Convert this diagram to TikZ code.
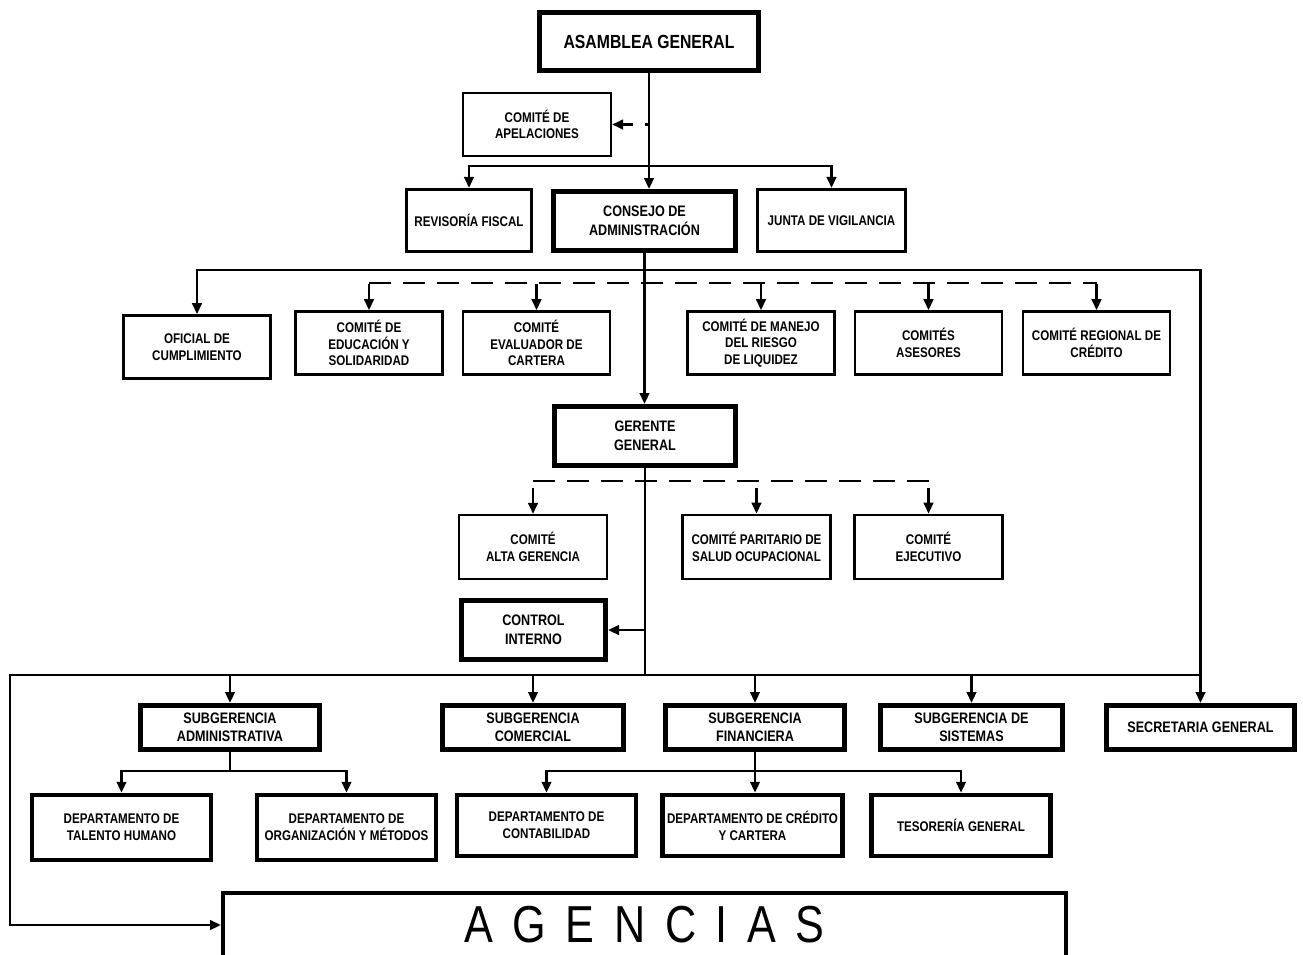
\documentclass[tikz,border=0pt]{standalone}
\usepackage{fontspec}
\setmainfont{Liberation Sans}[FakeStretch=0.83]
\usetikzlibrary{arrows.meta}
\newcommand{\fA}{\fontsize{19}{21}\selectfont\bfseries}
\newcommand{\fB}{\fontsize{15.2}{18.5}\selectfont\bfseries}
\newcommand{\fC}{\fontsize{14}{16.5}\selectfont\bfseries}
\newcommand{\fD}{\fontsize{14}{17}\selectfont\bfseries}
\begin{document}
\begin{tikzpicture}[x=1pt,y=-1pt,
  box/.style={draw,line width=2.6pt,inner sep=0pt,align=center,font=\fC},
  tbox/.style={draw,line width=5pt,inner sep=0pt,align=center,font=\fB},
  dbox/.style={draw,line width=4.5pt,inner sep=0pt,align=center,font=\fD},
  ln/.style={line width=2.6pt},
  arr/.style={line width=2.6pt,-{Triangle[length=11pt,width=9.5pt]}},
  dsh/.style={line width=2.6pt,dash pattern=on 22pt off 12pt}]
\useasboundingbox (0,0) rectangle (1303,954);
% nodes
\node[tbox,font=\fA,minimum width=219,minimum height=58] (ag) at (649,41.5) {ASAMBLEA GENERAL};
\node[box,line width=2.2pt,minimum width=148,minimum height=63] (apel) at (537,124.5) {COMITÉ DE\\APELACIONES};
\node[box,minimum width=125.5,minimum height=62.5] (rev) at (469,220.5) {REVISORÍA FISCAL};
\node[tbox,minimum width=182,minimum height=59] (cons) at (644.5,221) {CONSEJO DE\\ADMINISTRACIÓN};
\node[box,minimum width=148.5,minimum height=62.5] (jun) at (831.5,220.5) {JUNTA DE VIGILANCIA};
\node[box,minimum width=147,minimum height=63] (ofi) at (197,347) {OFICIAL DE\\CUMPLIMIENTO};
\node[box,minimum width=147,minimum height=63] (ced) at (369,343) {COMITÉ DE\\EDUCACIÓN Y\\SOLIDARIDAD};
\node[box,minimum width=147,minimum height=63] (cev) at (536.5,343) {COMITÉ\\EVALUADOR DE\\CARTERA};
\node[box,minimum width=147,minimum height=63] (cman) at (761,343) {COMITÉ DE MANEJO\\DEL RIESGO\\DE LIQUIDEZ};
\node[box,minimum width=147,minimum height=63] (cas) at (928.5,343) {COMITÉS\\ASESORES};
\node[box,minimum width=147,minimum height=63] (creg) at (1096.5,343) {COMITÉ REGIONAL DE\\CRÉDITO};
\node[tbox,minimum width=181,minimum height=59] (ger) at (645,436) {GERENTE\\GENERAL};
\node[box,line width=2.2pt,minimum width=148,minimum height=64] (calt) at (533,547) {COMITÉ\\ALTA GERENCIA};
\node[box,minimum width=148,minimum height=64] (cpar) at (756.5,547) {COMITÉ PARITARIO DE\\SALUD OCUPACIONAL};
\node[box,minimum width=148,minimum height=64] (cej) at (928.5,547) {COMITÉ\\EJECUTIVO};
\node[tbox,minimum width=144,minimum height=59] (ci) at (533.5,630) {CONTROL\\INTERNO};
\node[tbox,minimum width=179,minimum height=44] (sa) at (230,727.5) {SUBGERENCIA\\ADMINISTRATIVA};
\node[tbox,minimum width=181,minimum height=44] (sc) at (533,727.5) {SUBGERENCIA\\COMERCIAL};
\node[tbox,minimum width=179,minimum height=44] (sf) at (755,727.5) {SUBGERENCIA\\FINANCIERA};
\node[tbox,minimum width=182,minimum height=44] (ss) at (971.5,727.5) {SUBGERENCIA DE\\SISTEMAS};
\node[tbox,minimum width=188,minimum height=44] (sec) at (1200.5,727.5) {SECRETARIA GENERAL};
\node[dbox,minimum width=179,minimum height=65] (dth) at (121.5,827.5) {DEPARTAMENTO DE\\TALENTO HUMANO};
\node[dbox,minimum width=179,minimum height=65] (dom) at (346.5,827.5) {DEPARTAMENTO DE\\ORGANIZACIÓN Y MÉTODOS};
\node[dbox,minimum width=179,minimum height=61] (dc) at (546.5,825.5) {DEPARTAMENTO DE\\CONTABILIDAD};
\node[dbox,minimum width=180,minimum height=61] (dcc) at (752.5,825.5) {DEPARTAMENTO DE CRÉDITO\\Y CARTERA};
\node[dbox,minimum width=179,minimum height=61] (tes) at (961,825.5) {TESORERÍA GENERAL};
\node[draw,line width=4pt,inner sep=0pt,minimum width=843,minimum height=64] (agen) at (644.5,925)
  {\fontsize{52}{52}\selectfont\makebox[360pt][s]{A\hfill G\hfill E\hfill N\hfill C\hfill I\hfill A\hfill S}};
% coordinates
\coordinate (j1) at (649,166);
\coordinate (j2) at (645,270);
\coordinate (j3) at (645,675);
\coordinate (lc) at (10,925);
% top connectors
\draw[arr] (ag.south) -- (ag.south |- cons.north);
\draw[arr] (j1) -| (rev.north);
\draw[arr] (j1) -| (jun.north);
\draw[line width=2.6pt,dash pattern=on 4pt off 12pt on 40pt,-{Triangle[length=11pt,width=9.5pt]}] (ag.south |- apel.east) -- (apel.east);
% consejo
\draw[arr] (cons.south) -- (cons.south |- ger.north);
\draw[arr] (j2) -| (ofi.north);
\draw[arr] (j2) -| (sec.north);
\draw[dsh] (ced.north |- 0,283) -- (creg.north |- 0,283);
\foreach \n in {ced,cev,cman,cas,creg}{\draw[arr] (\n.north |- 0,284) -- (\n.north);}
% gerente
\draw[ln] (ger.south) -- (j3);
\draw[dsh] (calt.north |- 0,481) -- (cej.north |- 0,481);
\foreach \n in {calt,cpar,cej}{\draw[arr] (\n.north |- 0,488) -- (\n.north);}
\draw[arr] (ger.south |- ci.east) -- (ci.east);
\foreach \n in {sa,sc,sf,ss}{\draw[arr] (j3) -| (\n.north);}
\draw[ln] (j3) -- (sec.north |- j3);
\draw[arr] (j3) -| (lc) -- (agen.west);
% subgerencias
\draw[ln] (sa.south) -- (sa.south |- 0,771);
\draw[arr] (sa.south |- 0,771) -| (dth.north);
\draw[arr] (sa.south |- 0,771) -| (dom.north);
\draw[arr] (sf.south) -- (sf.south |- dcc.north);
\draw[arr] (sf.south |- 0,771) -| (dc.north);
\draw[arr] (sf.south |- 0,771) -| (tes.north);
\end{tikzpicture}
\end{document}
